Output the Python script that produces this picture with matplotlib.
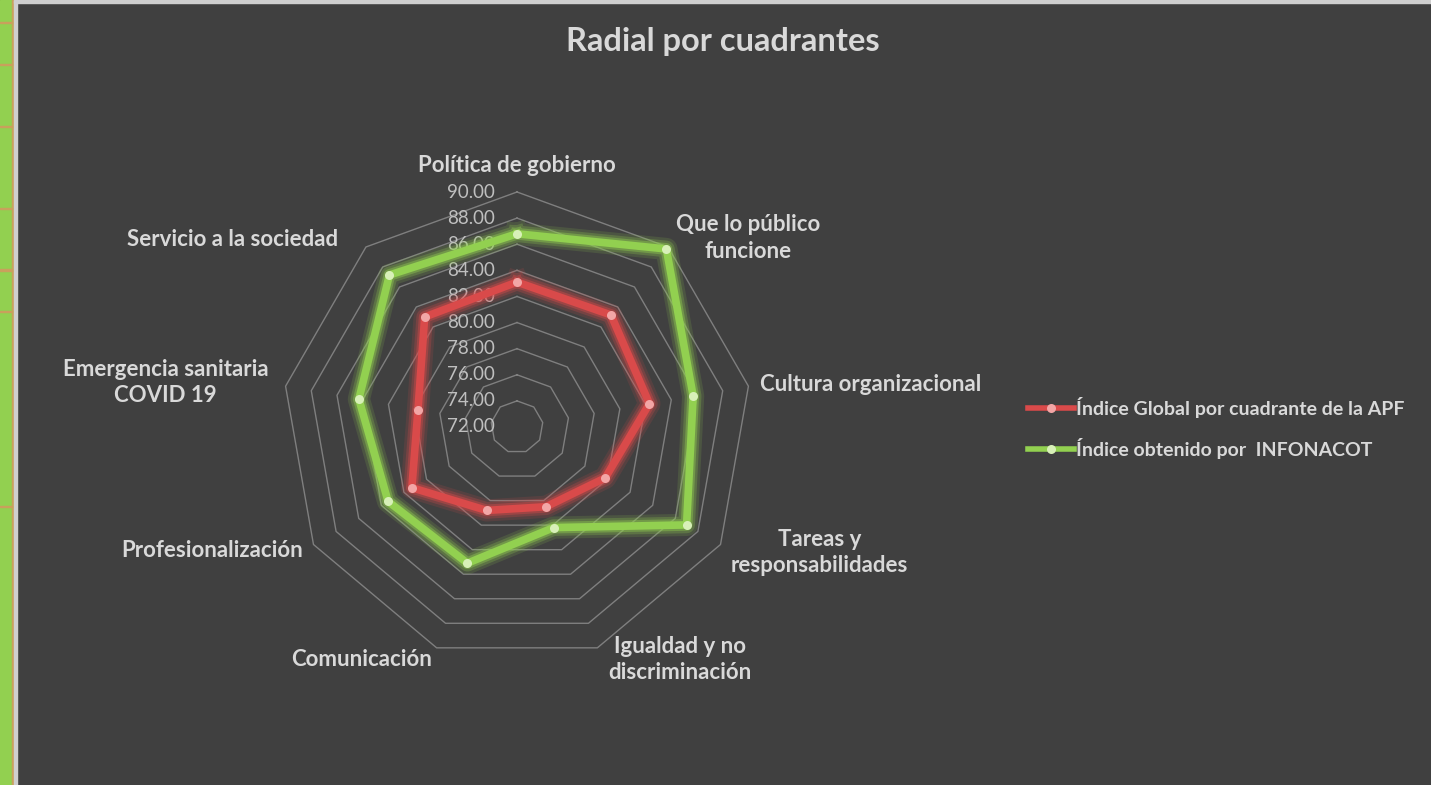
import numpy as np
import matplotlib
matplotlib.use("Agg")
import matplotlib.pyplot as plt
import matplotlib.patheffects as pe
from matplotlib.lines import Line2D
from matplotlib.patches import Rectangle

plt.rcParams['font.family'] = ['Lato', 'DejaVu Sans']

# datos
categorias = ["Política de gobierno", "Que lo público\nfuncione", "Cultura organizacional",
              "Tareas y\nresponsabilidades", "Igualdad y no\ndiscriminación", "Comunicación",
              "Profesionalización", "Emergencia sanitaria\nCOVID 19", "Servicio a la sociedad"]
indice_apf = [83.1, 83.2, 82.3, 79.8, 78.5, 78.8, 81.3, 79.7, 83.0]
indice_infonacot = [86.8, 89.8, 85.7, 87.0, 80.2, 83.1, 83.4, 84.3, 87.2]
serie_apf = "Índice Global por cuadrante de la APF"
serie_infonacot = "Índice obtenido por  INFONACOT"
niveles = [72, 74, 76, 78, 80, 82, 84, 86, 88, 90]
etiquetas_niveles = ["72.00", "74.00", "76.00", "78.00", "80.00",
                     "82.00", "84.00", "86.00", "88.00", "90.00"]

fondo = '#404040'
texto = '#D9D9D9'
rojo = '#D94A4A'
verde = '#92D050'

W, H = 1431, 785
fig = plt.figure(figsize=(W / 100, H / 100), dpi=100, facecolor=fondo)

# borde de la hoja (captura de Excel)
fig.patches.append(Rectangle((0, 0), 12 / W, 1, transform=fig.transFigure, color=verde, zorder=0))
fig.patches.append(Rectangle((12 / W, 0), 1.5 / W, 1, transform=fig.transFigure, color='#C9A05C', zorder=0))
fig.patches.append(Rectangle((14 / W, 0), 2.5 / W, 1, transform=fig.transFigure, color='#CFCFCF', zorder=0))
fig.patches.append(Rectangle((14 / W, 1 - 3 / H), 1, 3 / H, transform=fig.transFigure, color='#CFCFCF', zorder=0))
for yy in [23, 65, 127, 209, 271, 312, 507]:
    fig.patches.append(Rectangle((0, 1 - yy / H), 12 / W, 1.5 / H, transform=fig.transFigure,
                                 color='#C9A05C', zorder=1))

# eje polar: centro (517, 427), radio 235 px
cx, cy, rad = 517, 427, 235
ax = fig.add_axes([(cx - rad) / W, (H - cy - rad) / H, 2 * rad / W, 2 * rad / H], projection='polar')
ax.set_theta_zero_location('N')
ax.set_theta_direction(-1)
ax.set_ylim(niveles[0], niveles[-1])
ax.set_axis_off()

n = len(categorias)
theta = np.arange(n) * 2 * np.pi / n
tc = np.append(theta, theta[0])

# anillos poligonales
for v in niveles[1:]:
    ax.plot(tc, [v] * (n + 1), color='#7F7F7F', lw=1.0, clip_on=False, zorder=1)

for v, t in zip(niveles, etiquetas_niveles):
    ax.annotate(t, xy=(0, v), xytext=(-22, 0), textcoords='offset pixels', ha='right', va='center',
                fontsize=13.5, color='#BFBFBF', zorder=2, annotation_clip=False)

# series con brillo
def serie(valores, color, marcador):
    vals = np.append(valores, valores[0])
    ax.plot(tc, vals, color=color, lw=5.5, clip_on=False, zorder=3,
            path_effects=[pe.Stroke(linewidth=16, foreground=color, alpha=0.15),
                          pe.Stroke(linewidth=12, foreground=color, alpha=0.25),
                          pe.Stroke(linewidth=8.5, foreground=color, alpha=0.4),
                          pe.Normal()])
    ax.plot(theta, valores, 'o', ms=6.5, color=marcador, mec='none', clip_on=False, zorder=4)

serie(indice_apf, rojo, '#F2A6A6')
serie(indice_infonacot, verde, '#D8F0B8')

# etiquetas de categoria (desplazamiento en px desde el vertice exterior)
desp = [(0, 26), (8, 9), (12, 2), (10, -8), (11, -12), (-5, -12), (-10, -6), (-17, 4), (-28, 7)]
for i, lab in enumerate(categorias):
    dx, dy = desp[i]
    ha = 'center' if i == 0 else ('left' if np.sin(theta[i]) > 0 else 'right')
    ax.annotate(lab, xy=(theta[i], niveles[-1]), xytext=(dx, dy), textcoords='offset pixels',
                ha=ha, va='center', multialignment='center', fontsize=16, fontweight='bold',
                color=texto, linespacing=1.3, annotation_clip=False)

fig.text((15 + W) / 2 / W, 1 - 42 / H, "Radial por cuadrantes", ha='center', va='center',
         fontsize=23.5, fontweight='bold', color=texto)

handles = [Line2D([], [], color=rojo, lw=4, marker='o', ms=6.5, mfc='#F2A6A6', mec='none'),
           Line2D([], [], color=verde, lw=4, marker='o', ms=6.5, mfc='#D8F0B8', mec='none')]
leg = fig.legend(handles, [serie_apf, serie_infonacot], loc='center left',
                 bbox_to_anchor=(1018 / W, 1 - 428 / H), frameon=False, handlelength=2.4,
                 handletextpad=0.1, labelspacing=1.0, borderpad=0, numpoints=1,
                 prop={'size': 14, 'weight': 'bold'})
for t in leg.get_texts():
    t.set_color(texto)

fig.savefig('out.png', dpi=100, facecolor=fondo)
